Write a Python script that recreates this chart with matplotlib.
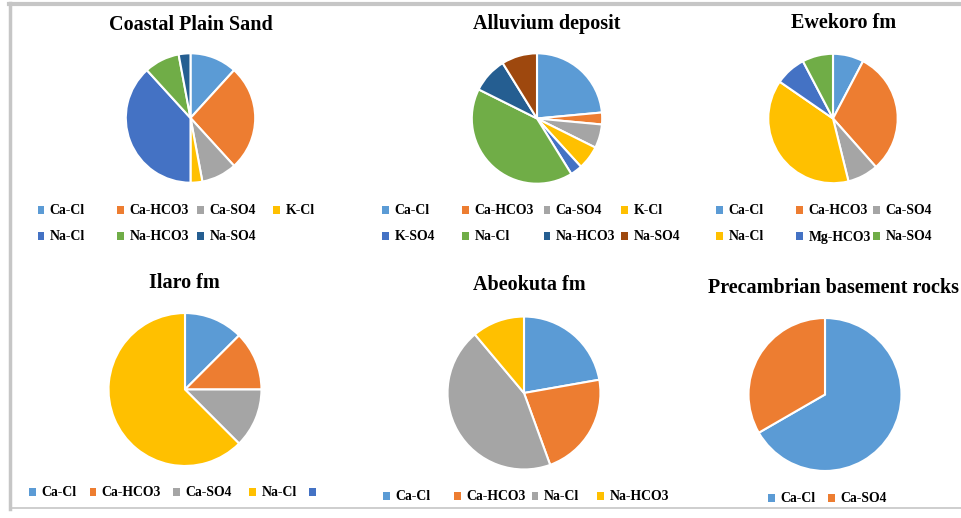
import matplotlib
matplotlib.use('Agg')
import matplotlib.pyplot as plt
from matplotlib.patches import Patch
from matplotlib.lines import Line2D

# hydrochemical facies counts per formation
coastal_labels = ['Ca-Cl', 'Ca-HCO3', 'Ca-SO4', 'K-Cl', 'Na-Cl', 'Na-HCO3', 'Na-SO4']
coastal_counts = [4, 9, 3, 1, 13, 3, 1]

alluvium_labels = ['Ca-Cl', 'Ca-HCO3', 'Ca-SO4', 'K-Cl', 'K-SO4', 'Na-Cl', 'Na-HCO3', 'Na-SO4']
alluvium_counts = [8, 1, 2, 2, 1, 14, 3, 3]

ewekoro_labels = ['Ca-Cl', 'Ca-HCO3', 'Ca-SO4', 'Na-Cl', 'Mg-HCO3', 'Na-SO4']
ewekoro_counts = [1, 4, 1, 5, 1, 1]

ilaro_labels = ['Ca-Cl', 'Ca-HCO3', 'Ca-SO4', 'Na-Cl', '']
ilaro_counts = [1, 1, 1, 5, 0]

abeokuta_labels = ['Ca-Cl', 'Ca-HCO3', 'Na-Cl', 'Na-HCO3']
abeokuta_counts = [2, 2, 4, 1]

precambrian_labels = ['Ca-Cl', 'Ca-SO4']
precambrian_counts = [2, 1]

palette = ['#5B9BD5', '#ED7D31', '#A5A5A5', '#FFC000', '#4472C4',
           '#70AD47', '#255E91', '#9E480E']

W, H = 962, 518
SERIF = 'Liberation Serif'

fig = plt.figure(figsize=(W / 100, H / 100), dpi=100)
fig.patch.set_facecolor('white')


def fx(x):
    return x / W


def fy(y):
    return 1 - y / H


def panel(title, labels, counts, title_xy, pie_c, r, leg_x, leg_y):
    cx, cy = pie_c
    ax = fig.add_axes([fx(cx - r), fy(cy + r), 2 * r / W, 2 * r / H])
    vals = [v for v in counts if v > 0]
    cols = [palette[i] for i, v in enumerate(counts) if v > 0]
    ax.pie(vals, colors=cols, startangle=90, counterclock=False,
           wedgeprops=dict(edgecolor='white', linewidth=1.5))
    ax.set_xlim(-1.02, 1.02)
    ax.set_ylim(-1.02, 1.02)
    ax.set_aspect('equal')
    ax.axis('off')

    fig.text(fx(title_xy[0]), fy(title_xy[1]), title, ha='center', va='center',
             fontsize=14.5, fontweight='bold', family=SERIF)

    ncol = len(leg_x)
    for i, lab in enumerate(labels):
        x = leg_x[i % ncol]
        y = leg_y[i // ncol]
        fig.legend(handles=[Patch(facecolor=palette[i], edgecolor='none')], labels=[lab],
                   loc='center left', bbox_to_anchor=(fx(x - 3.5), fy(y)),
                   frameon=False, borderpad=0, borderaxespad=0,
                   handlelength=0.5, handleheight=0.5, handletextpad=0.4,
                   prop=dict(family=SERIF, weight='bold', size=9.9))


panel('Coastal Plain Sand', coastal_labels, coastal_counts, (191, 25), (190.5, 118), 66,
      [41, 121, 201, 277], [211, 237])
panel('Alluvium deposit', alluvium_labels, alluvium_counts, (547, 23.5), (537, 118.5), 66.5,
      [386, 466, 547, 625], [211, 237])
panel('Ewekoro fm', ewekoro_labels, ewekoro_counts, (844, 23.5), (833, 118.5), 66,
      [720, 800, 877], [211, 237])
panel('Ilaro fm', ilaro_labels, ilaro_counts, (184, 283), (185, 389.5), 78,
      [33, 93, 177, 253, 313], [493])
panel('Abeokuta fm', abeokuta_labels, abeokuta_counts, (529.5, 285), (524, 393), 78,
      [387, 458, 535, 601], [497])
panel('Precambrian basement rocks', precambrian_labels, precambrian_counts, (834, 288), (825, 394.5), 78,
      [772, 832], [499])

# grey frame from the pasted screenshots
fig.add_artist(Line2D([fx(9), fx(962)], [fy(4), fy(4)], color='#C6C6C6', linewidth=3,
                      transform=fig.transFigure))
fig.add_artist(Line2D([fx(10), fx(10)], [fy(3), fy(509)], color='#C6C6C6', linewidth=2.5,
                      transform=fig.transFigure))
fig.add_artist(Line2D([fx(10), fx(962)], [fy(508), fy(508)], color='#C6C6C6', linewidth=1.2,
                      transform=fig.transFigure))

fig.savefig('out.png', dpi=100)
